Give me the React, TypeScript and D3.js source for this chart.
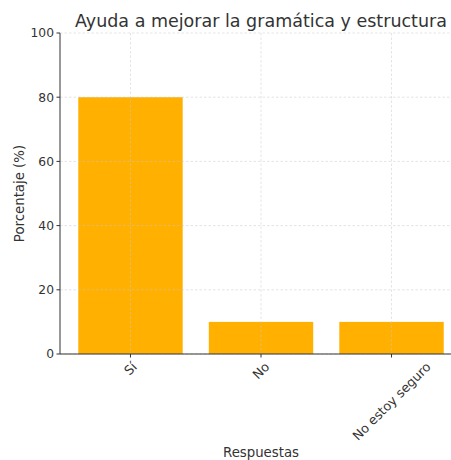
import React, { useRef, useEffect } from 'react';
import * as d3 from 'd3';

const categories = ['Sí', 'No', 'No estoy seguro'];
const values = [80, 10, 10];
const yTicks = [0, 20, 40, 60, 80, 100];

const App: React.FC = () => {
  const svgRef = useRef<SVGSVGElement>(null);

  useEffect(() => {
    document.body.style.margin = '0';
    if (!svgRef.current) return;
    const width = 451;
    const height = 460;
    const margin = { top: 33, left: 60, bottom: 106 };
    const plotBottom = height - margin.bottom;
    const font = 'DejaVu Sans, sans-serif';
    const textColor = '#333333';

    const svg = d3.select(svgRef.current);
    svg.selectAll('*').remove();

    // matplotlib-like x limits: bar edges +/- 5% margin
    const x = d3.scaleLinear().domain([-0.54, 2.54]).range([margin.left, margin.left + 402]);
    const y = d3.scaleLinear().domain([0, 100]).range([plotBottom, margin.top]);
    const barW = x(0.8) - x(0);

    // Bars
    svg.append('g')
      .selectAll('rect')
      .data(values)
      .join('rect')
      .attr('x', (_, i) => x(i - 0.4))
      .attr('y', d => y(d))
      .attr('width', barW)
      .attr('height', d => plotBottom - y(d))
      .attr('fill', '#ffb000');

    // Grid on top of bars
    const grid = svg.append('g')
      .attr('stroke', '#c8c8c8')
      .attr('stroke-opacity', 0.7)
      .attr('stroke-width', 0.7)
      .attr('stroke-dasharray', '2.5,2');
    yTicks.forEach(t => {
      grid.append('line')
        .attr('x1', margin.left).attr('x2', width)
        .attr('y1', y(t)).attr('y2', y(t));
    });
    categories.forEach((_, i) => {
      grid.append('line')
        .attr('x1', x(i)).attr('x2', x(i))
        .attr('y1', margin.top).attr('y2', plotBottom);
    });

    // Spines
    svg.append('line')
      .attr('x1', margin.left).attr('x2', margin.left)
      .attr('y1', margin.top).attr('y2', plotBottom)
      .attr('stroke', textColor).attr('stroke-width', 1);
    svg.append('line')
      .attr('x1', margin.left).attr('x2', width)
      .attr('y1', plotBottom).attr('y2', plotBottom)
      .attr('stroke', textColor).attr('stroke-width', 1);

    // Y ticks
    yTicks.forEach(t => {
      svg.append('line')
        .attr('x1', margin.left - 3.5).attr('x2', margin.left)
        .attr('y1', y(t)).attr('y2', y(t))
        .attr('stroke', textColor);
      svg.append('text')
        .attr('x', margin.left - 6)
        .attr('y', y(t))
        .attr('dy', '0.35em')
        .attr('text-anchor', 'end')
        .attr('font-family', font)
        .attr('font-size', 12.3)
        .attr('fill', textColor)
        .text(t);
    });

    // X ticks with rotated labels (centered bbox, top aligned)
    categories.forEach((c, i) => {
      svg.append('line')
        .attr('x1', x(i)).attr('x2', x(i))
        .attr('y1', plotBottom).attr('y2', plotBottom + 3.5)
        .attr('stroke', textColor);
      const t = svg.append('text')
        .attr('text-anchor', 'middle')
        .attr('dy', '0.35em')
        .attr('font-family', font)
        .attr('font-size', 12.8)
        .attr('fill', textColor)
        .text(c);
      const len = (t.node() as SVGTextElement).getComputedTextLength();
      const h = (len + 12.8) * Math.SQRT1_2;
      t.attr('transform', `translate(${x(i)},${plotBottom + 6 + h / 2}) rotate(-45)`);
    });

    // Title
    svg.append('text')
      .attr('x', x(1))
      .attr('y', 27)
      .attr('text-anchor', 'middle')
      .attr('font-family', font)
      .attr('font-size', 17.5)
      .attr('fill', textColor)
      .text('Ayuda a mejorar la gramática y estructura');

    // Axis labels
    svg.append('text')
      .attr('x', x(1))
      .attr('y', 457)
      .attr('text-anchor', 'middle')
      .attr('font-family', font)
      .attr('font-size', 13.3)
      .attr('fill', textColor)
      .text('Respuestas');

    svg.append('text')
      .attr('transform', `translate(24,${(margin.top + plotBottom) / 2}) rotate(-90)`)
      .attr('text-anchor', 'middle')
      .attr('font-family', font)
      .attr('font-size', 13.3)
      .attr('fill', textColor)
      .text('Porcentaje (%)');
  }, []);

  return <svg ref={svgRef} width={451} height={460} style={{ display: 'block', background: '#fff' }} />;
};

export default App;
